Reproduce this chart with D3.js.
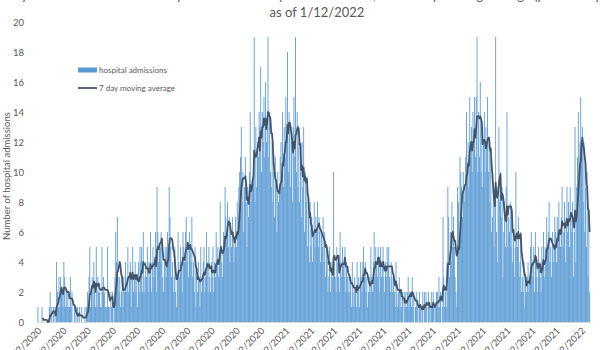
<!DOCTYPE html>
<html><head><meta charset="utf-8">
<script src="https://cdn.jsdelivr.net/npm/d3@7"></script>
<style>body{margin:0;background:#fff}svg{display:block}text{font-family:Lato,"Open Sans",sans-serif;fill:#595959}</style>
</head><body><svg id="c" width="600" height="350"></svg>
<script>
// Daily hospital admissions, one array per calendar month (starting 3/2/2020)
const mar20=[1,0,0,0,0,1,0,0,0,0,0,0,0,0,1,2,0,1,0,1,0,1,0,4,2,1,3,1,3,2];
const apr20=[2,1,4,3,1,2,1,2,1,1,3,1,2,0,0,1,0,1,0,1,0,1,0,0,1,0,0,0,1,0];
const may20=[1,2,1,3,5,1,2,3,1,4,2,1,5,1,3,2,2,1,1,5,2,3,2,1,1,1,5,1,1,0,2];
const jun20=[1,2,0,1,3,6,4,7,3,2,3,1,2,3,1,3,2,4,2,3,5,2,3,4,1,3,5,2,3,4];
const jul20=[2,3,1,4,2,5,4,5,2,6,3,2,4,3,5,2,4,3,6,2,4,5,3,4,6,2,9,6,4,5,5];
const aug20=[6,4,3,2,4,5,3,5,6,4,9,7,5,3,4,2,3,5,2,1,3,6,4,3,5,4,2,6,5,4,6];
const sep20=[7,4,5,3,6,5,4,7,3,4,2,5,1,3,2,4,3,1,5,2,3,4,5,2,3,6,4,2,5,3];
const oct20=[2,4,3,5,2,4,3,6,4,5,3,4,8,5,4,3,6,5,9,7,6,8,5,7,4,6,5,7,6,4,5];
const nov20=[7,5,8,6,9,10,11,13,8,10,6,9,11,8,5,9,7,10,14,8,9,9,11,19,8,13,9,12,11,14];
const dec20=[13,17,10,14,12,15,11,16,12,13,19,11,14,10,9,12,8,10,7,11,9,6,10,8,9,11,12,10,14,9,13];
const jan21=[11,15,12,18,10,14,13,9,12,8,13,15,11,19,10,14,9,12,8,11,7,12,9,13,6,10,8,9,5,7,4];
const feb21=[8,5,7,4,6,8,5,7,6,8,5,7,6,4,6,5,7,4,6,3,5,4,2,3,5,2,4,3];
const mar21=[3,10,4,3,2,5,4,3,2,6,4,3,5,4,3,5,2,4,3,2,3,2,3,1,4,2,1,3,2,1,4];
const apr21=[2,3,1,4,3,2,4,5,3,4,2,3,1,2,3,2,5,3,2,4,6,3,5,4,3,5,4,2,5,3];
const may21=[4,5,3,2,4,3,5,4,5,3,2,4,3,2,3,2,1,4,2,1,2,3,1,2,1,2,0,2,1,2,1];
const jun21=[2,3,1,2,2,1,3,1,2,0,1,2,1,1,0,2,1,0,1,2,0,2,1,2,1,0,2,1,0,1];
const jul21=[2,1,2,1,0,1,2,2,1,3,1,2,0,1,7,3,1,2,1,4,9,7,3,6,4,8,5,7,5,3,2];
const aug21=[1,9,8,6,11,10,9,7,10,9,8,11,14,10,12,9,15,11,13,10,14,12,15,11,15,19,10,14,11,16,10];
const sep21=[13,9,12,14,10,13,12,15,10,12,8,11,6,7,9,5,8,19,6,4,9,13,8,10,7,9,3,6,8,5];
const oct21=[9,14,5,7,6,8,5,7,4,6,3,5,10,6,5,7,3,4,6,2,3,2,4,1,3,2,3,4,2,3,5];
const nov21=[6,4,3,5,2,6,4,3,2,5,4,3,2,5,4,6,3,5,4,7,5,6,8,4,5,3,6,4,5,7];
const dec21=[6,4,7,5,8,6,5,7,9,5,6,8,4,7,9,6,8,5,9,7,6,8,3,6,13,4,9,11,14,10,12];
const jan22=[15,11,13,8,12,6,9,5,10,3,7,2];

const tickLabels=["3/2/2020","4/2/2020","5/2/2020","6/2/2020","7/2/2020","8/2/2020","9/2/2020","10/2/2020","11/2/2020","12/2/2020","1/2/2021","2/2/2021","3/2/2021","4/2/2021","5/2/2021","6/2/2021","7/2/2021","8/2/2021","9/2/2021","10/2/2021","11/2/2021","12/2/2021","1/2/2022"];
const yTicks=[0,2,4,6,8,10,12,14,16,18,20];
const titleLines=["Daily number of COVID-19 hospital admissions by admission date, with 7 day moving average (preliminary data),","as of 1/12/2022"];
const yTitle="Number of hospital admissions";
const legendLabels=["hospital admissions","7 day moving average"];

const admissions=[mar20,apr20,may20,jun20,jul20,aug20,sep20,oct20,nov20,dec20,jan21,feb21,mar21,apr21,may21,jun21,jul21,aug21,sep21,oct21,nov21,dec21,jan22].flat();
const start=new Date(Date.UTC(2020,2,2));
const dates=admissions.map((_,i)=>d3.utcDay.offset(start,i));
const ma=admissions.map((v,i)=>i<6?null:d3.mean(admissions.slice(i-6,i+1)));

const svg=d3.select("#c");
const x=d3.scaleUtc().domain([start,d3.utcDay.offset(start,admissions.length)]).range([37.5,590]);
const y=d3.scaleLinear().domain([0,20]).range([322,22]);
const bw=x(d3.utcDay.offset(start,1))-x(start);
const blue="#5B9BD5", dark="#44546A";

svg.append("g").selectAll("rect").data(admissions).join("rect")
  .attr("x",(d,i)=>x(dates[i]))
  .attr("y",d=>y(d))
  .attr("width",bw+0.08)
  .attr("height",d=>y(0)-y(d))
  .attr("fill",blue);

svg.append("line").attr("x1",37).attr("x2",590).attr("y1",322.5).attr("y2",322.5).attr("stroke","#d9d9d9").attr("stroke-width",1);

const line=d3.line().defined(d=>d!=null).x((d,i)=>x(dates[i])+bw/2).y(d=>y(d));
svg.append("path").datum(ma).attr("d",line).attr("fill","none").attr("stroke",dark).attr("stroke-width",1.8).attr("stroke-linejoin","round");

// y axis labels
const yAxis=d3.axisLeft(y).tickValues(yTicks).tickSize(0).tickPadding(0);
const ga=svg.append("g").attr("transform","translate(24,0)").call(yAxis);
ga.select(".domain").remove();
ga.selectAll("text").style("font-size","9.5px").style("font-family","Lato").attr("fill","#595959");

// x axis labels
const parse=d3.utcParse("%m/%d/%Y");
const xg=svg.append("g");
tickLabels.forEach(t=>{
  const d=parse(t);
  const px=x(d)+bw/2+2;
  xg.append("text").attr("transform",`translate(${px},329) rotate(-45)`).attr("text-anchor","end").attr("dy","0.35em").style("font-size","9.5px").text(t);
});

svg.append("text").attr("transform","translate(10,176) rotate(-90)").attr("text-anchor","middle").style("font-size","9.5px").text(yTitle);

svg.append("text").attr("x",317).attr("y",0).attr("text-anchor","middle").style("font-size","13px").text(titleLines[0]);
svg.append("text").attr("x",317).attr("y",17).attr("text-anchor","middle").style("font-size","13px").text(titleLines[1]);

// legend
svg.append("rect").attr("x",78).attr("y",67.5).attr("width",19).attr("height",5).attr("fill",blue);
svg.append("text").attr("x",99).attr("y",70).attr("dy","0.35em").style("font-size","8px").text(legendLabels[0]);
svg.append("line").attr("x1",78).attr("x2",97).attr("y1",88).attr("y2",88).attr("stroke",dark).attr("stroke-width",1.8);
svg.append("text").attr("x",99).attr("y",88).attr("dy","0.35em").style("font-size","8px").text(legendLabels[1]);
</script></body></html>
